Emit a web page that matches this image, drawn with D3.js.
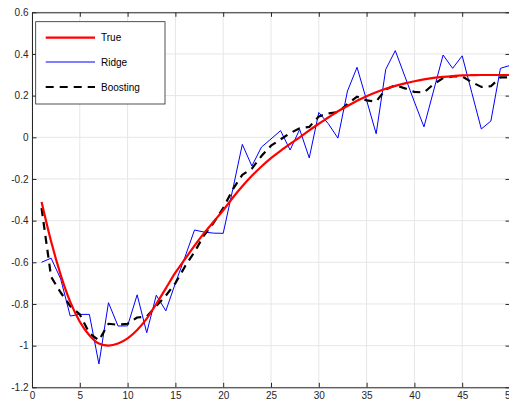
<!DOCTYPE html>
<html lang="en">

<head>
    <meta charset="utf-8">
    <title>True vs Ridge vs Boosting</title>
    <script type="text/javascript" src="https://d3js.org/d3.v7.min.js"></script>
    <style>
        body { margin: 0; background: #fff; }
        svg { display: block; font-family: "Liberation Sans", Arial, sans-serif; }
        .tick text { fill: #262626; font-size: 10px; }
        .grid line { stroke: #e6e6e6; }
    </style>
</head>

<body>
    <div id="container"></div>
    <script type="text/javascript">
        // values, x = 1..50
        var xs = d3.range(1, 51);

        var trueVals = [-0.31, -0.50, -0.66, -0.79, -0.885, -0.95, -0.99, -1.0, -0.99, -0.965,
            -0.925, -0.87, -0.80, -0.725, -0.65, -0.585, -0.52, -0.46, -0.405, -0.35,
            -0.29, -0.235, -0.185, -0.14, -0.10, -0.065, -0.032, 0.0, 0.033, 0.065,
            0.095, 0.125, 0.15, 0.175, 0.197, 0.216, 0.233, 0.247, 0.259, 0.269,
            0.278, 0.285, 0.29, 0.294, 0.297, 0.298, 0.299, 0.299, 0.299, 0.299];

        var ridgeVals = [-0.60, -0.58, -0.68, -0.858, -0.85, -0.85, -1.088, -0.794, -0.906, -0.905,
            -0.756, -0.938, -0.758, -0.833, -0.70, -0.575, -0.445, -0.455, -0.46, -0.461,
            -0.25, -0.034, -0.138, -0.047, -0.008, 0.032, -0.061, 0.038, -0.099, 0.119,
            0.065, -0.004, 0.222, 0.336, 0.178, 0.017, 0.326, 0.416, 0.293, 0.17,
            0.05, 0.222, 0.395, 0.331, 0.391, 0.215, 0.04, 0.078, 0.331, 0.345];

        var boostVals = [-0.34, -0.67, -0.745, -0.81, -0.85, -0.94, -0.975, -0.895, -0.90, -0.895,
            -0.865, -0.86, -0.81, -0.76, -0.70, -0.62, -0.55, -0.47, -0.41, -0.34,
            -0.25, -0.18, -0.15, -0.09, -0.04, -0.01, 0.02, 0.043, 0.05, 0.10,
            0.115, 0.12, 0.16, 0.195, 0.177, 0.172, 0.23, 0.25, 0.235, 0.218,
            0.215, 0.255, 0.284, 0.292, 0.292, 0.265, 0.242, 0.245, 0.288, 0.288];

        var xTicks = [0, 5, 10, 15, 20, 25, 30, 35, 40, 45, 50];
        var yTicks = [-1.2, -1, -0.8, -0.6, -0.4, -0.2, 0, 0.2, 0.4, 0.6];
        var legendNames = ["True", "Ridge", "Boosting"];

        var w = 509, h = 400;
        var mLeft = 32, mTop = 12.3, pw = 478, ph = 375;

        const svg = d3.select("div#container")
            .append("svg")
            .attr("width", w)
            .attr("height", h);

        var x = d3.scaleLinear().domain([0, 50]).range([mLeft, mLeft + pw]);
        var y = d3.scaleLinear().domain([-1.2, 0.6]).range([mTop + ph, mTop]);

        // grid
        var grid = svg.append("g").attr("class", "grid");
        grid.selectAll("line.v").data(xTicks).enter().append("line")
            .attr("class", "v")
            .attr("x1", d => x(d)).attr("x2", d => x(d))
            .attr("y1", mTop).attr("y2", mTop + ph);
        grid.selectAll("line.h").data(yTicks).enter().append("line")
            .attr("class", "h")
            .attr("y1", d => y(d)).attr("y2", d => y(d))
            .attr("x1", mLeft).attr("x2", mLeft + pw);

        var fmt = d => String(+d.toFixed(1));

        // axes (ticks pointing in, box all round)
        function styleAxis(g) {
            g.selectAll("path.domain").attr("stroke", "#262626");
            g.selectAll(".tick line").attr("stroke", "#262626");
        }
        svg.append("g").attr("transform", "translate(0," + (mTop + ph) + ")")
            .call(d3.axisBottom(x).tickValues(xTicks).tickSizeInner(-4.5).tickSizeOuter(0).tickPadding(4.5).tickFormat(fmt))
            .call(styleAxis);
        svg.append("g").attr("transform", "translate(0," + mTop + ")")
            .call(d3.axisTop(x).tickValues(xTicks).tickSizeInner(-4.5).tickSizeOuter(0).tickFormat(""))
            .call(styleAxis);
        svg.append("g").attr("transform", "translate(" + mLeft + ",0)")
            .call(d3.axisLeft(y).tickValues(yTicks).tickSizeInner(-4.5).tickSizeOuter(0).tickPadding(3.5).tickFormat(fmt))
            .call(styleAxis);
        svg.append("g").attr("transform", "translate(" + (mLeft + pw) + ",0)")
            .call(d3.axisRight(y).tickValues(yTicks).tickSizeInner(-4.5).tickSizeOuter(0).tickFormat(""))
            .call(styleAxis);
        svg.selectAll(".tick text").attr("font-family", "Liberation Sans, Arial, sans-serif").attr("font-size", 10);

        // lines
        var series = [
            { name: "True", vals: trueVals, color: "#ff0000", width: 2.2, dash: null, curve: d3.curveMonotoneX },
            { name: "Ridge", vals: ridgeVals, color: "#0000ff", width: 1, dash: null, curve: d3.curveLinear },
            { name: "Boosting", vals: boostVals, color: "#000000", width: 2.2, dash: "8,6", curve: d3.curveLinear }
        ];
        var order = [series[1], series[2], series[0]];
        order.forEach(function (s) {
            var line = d3.line().x((d, i) => x(xs[i])).y(d => y(d)).curve(s.curve);
            svg.append("path")
                .datum(s.vals)
                .attr("fill", "none")
                .attr("stroke", s.color)
                .attr("stroke-width", s.width)
                .attr("stroke-dasharray", s.dash)
                .attr("stroke-linejoin", "round")
                .attr("d", line);
        });

        // legend
        var lg = svg.append("g");
        lg.append("rect").attr("x", 35.7).attr("y", 21.7).attr("width", 129.3).attr("height", 82.3)
            .attr("fill", "#fff").attr("stroke", "#262626").attr("stroke-width", 0.8);
        var rows = [37.7, 62, 87];
        series.forEach(function (s, i) {
            lg.append("line").attr("x1", 45.7).attr("x2", 95).attr("y1", rows[i]).attr("y2", rows[i])
                .attr("stroke", s.color).attr("stroke-width", s.width).attr("stroke-dasharray", s.dash);
            lg.append("text").attr("x", 101).attr("y", rows[i]).attr("dy", "0.35em")
                .attr("font-size", 10).attr("fill", "#000").text(legendNames[i]);
        });
    </script>
</body>

</html>
